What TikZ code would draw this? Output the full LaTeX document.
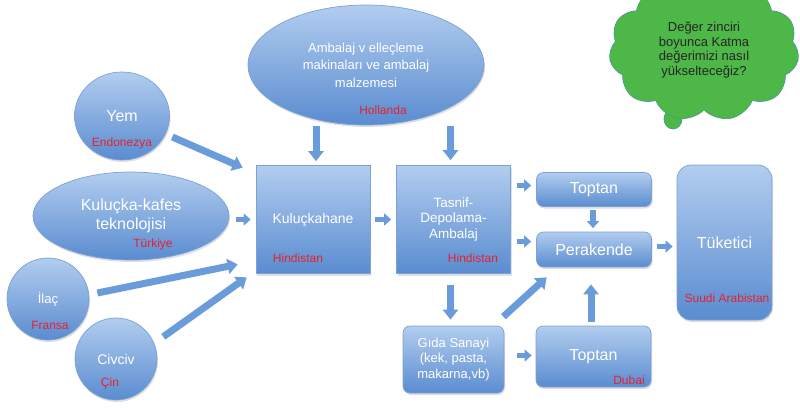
\documentclass[tikz,border=0pt]{standalone}
\usepackage{fontspec}
\setmainfont{Liberation Sans}
\usetikzlibrary{shapes.geometric,shapes.symbols,arrows.meta,shadows,calc}
\definecolor{btop}{HTML}{B2CDEF}
\definecolor{bbot}{HTML}{5A8CD0}
\definecolor{bline}{HTML}{7BA2D6}
\definecolor{arr}{HTML}{6A9BDA}
\definecolor{labred}{HTML}{E8202E}
\definecolor{cgreen}{HTML}{4DB748}
\definecolor{cline}{HTML}{4A9E86}
\newcommand{\fsz}[2]{\fontsize{#1}{#2}\selectfont}
\begin{document}
\begin{tikzpicture}[x=1pt,y=-1pt,
  blob/.style={top color=btop, bottom color=bbot, draw=bline, line width=0.7pt,
    inner sep=0pt, text=white, align=center,
    drop shadow={opacity=0.25,shadow xshift=1pt,shadow yshift=-2pt}},
  ell/.style={blob, ellipse},
  box/.style={blob, rectangle},
  rbox/.style={blob, rectangle, rounded corners=7pt},
  lab/.style={text=labred, font=\fsz{12}{14}, inner sep=0pt},
  barrow/.style={draw=arr, line width=7pt, -{Triangle[width=15pt,length=10pt]}},
  sarrow/.style={draw=arr, line width=5.5pt, -{Triangle[width=12pt,length=7pt]}},
]
\useasboundingbox (0,0) rectangle (800,407);

% cloud tail
\filldraw[fill=cgreen, draw=cline, line width=0.7pt] (673,119) ellipse [x radius=9, y radius=10];
\filldraw[fill=cgreen, draw=cline, line width=0.7pt] (677,104) ellipse [x radius=8, y radius=8];
% cloud
\node[cloud, cloud puffs=11, cloud puff arc=115, fill=cgreen, draw=cline, line width=0.7pt,
  minimum width=190pt, minimum height=102pt, inner sep=0pt, text=black!85,
  font=\fsz{13}{14.5}, align=center] (q) at (704,50)
  {Değer zinciri\\boyunca Katma\\değerimizi nasıl\\yükselteceğiz?};

% sources
\node[ell, minimum width=236pt, minimum height=120pt, font=\fsz{13}{17.5}] (amb) at (366,65)
  {Ambalaj v elleçleme\\makinaları ve ambalaj\\malzemesi};
\node[ell, minimum width=95pt, minimum height=88pt, font=\fsz{16}{18}] (yem) at (122,116) {Yem};
\node[ell, minimum width=196pt, minimum height=88pt, font=\fsz{16}{18.5}] (kafes) at (131,216)
  {Kuluçka-kafes\\teknolojisi};
\node[ell, minimum width=82pt, minimum height=82pt, font=\fsz{13}{15}] (ilac) at (48,299) {İlaç};
\node[ell, minimum width=82pt, minimum height=82pt, font=\fsz{14}{16}] (civ) at (116,359) {Civciv};

% chain
\node[box, minimum width=114pt, minimum height=108pt, font=\fsz{14}{16}] (kul) at (313,219.5) {Kuluçkahane};
\node[box, minimum width=114pt, minimum height=108pt, font=\fsz{13.5}{15.5}] (tas) at (453.5,219.5)
  {Tasnif-\\Depolama-\\Ambalaj};
\node[rbox, minimum width=115pt, minimum height=34pt, font=\fsz{16}{18}] (top1) at (594,189.5) {Toptan};
\node[rbox, minimum width=115pt, minimum height=35pt, font=\fsz{16}{18}] (per) at (594,249.5) {Perakende};
\node[rbox, rounded corners=14pt, minimum width=95pt, minimum height=155pt, font=\fsz{16}{18}] (tuk) at (724.5,242.5) {Tüketici};
\node[rbox, minimum width=101pt, minimum height=67pt, font=\fsz{13}{15.5}] (gida) at (453.5,359.5)
  {Gıda Sanayi\\(kek, pasta,\\makarna,vb)};
\node[rbox, minimum width=115pt, minimum height=61pt, font=\fsz{16}{18}] (top2) at (593.5,356.5) {Toptan};

% red labels
\node[lab] (lhol) at (383,110) {Hollanda};
\node[lab] (lend) at (122,143) {Endonezya};
\node[lab] (ltur) at (153,244) {Türkiye};
\node[lab] (lfra) at (50,325) {Fransa};
\node[lab] (lcin) at (110,383) {Çin};
\node[lab] (lhin1) at (298,258) {Hindistan};
\node[lab] (lhin2) at (473,258) {Hindistan};
\node[lab] (ldub) at (629,380) {Dubai};
\node[lab] (lsuu) at (727,298) {Suudi Arabistan};

% arrows
\draw[barrow] ($(yem.east)+(2.5,21)$) -- ($(kul.north west)+(-13,2.5)$);
\draw[barrow] ($(ilac.east)+(8,-6)$) -- ($(kul.south west)+(-18,-9.5)$);
\draw[barrow] ($(civ.north east)+(18,7)$) -- ($(kul.south west)+(-9,3.5)$);
\draw[sarrow] ($(kafes.east)+(7,3.5)$) -- ($(kul.west)+(-5,0)$);
\draw[barrow] ($(amb.south -| kul.north)+(3,1)$) -- ($(kul.north)+(3,-4)$);
\draw[barrow] ($(amb.south -| tas.north)+(-3,1)$) -- ($(tas.north)+(-3,-5)$);
\draw[sarrow] ($(kul.east)+(5,0)$) -- ($(tas.west)+(-5,0)$);
\draw[sarrow] ($(tas.east |- top1.west)+(6,-4)$) -- ($(top1.west)+(-5,-4)$);
\draw[sarrow] ($(tas.east |- per.west)+(6,-8)$) -- ($(per.west)+(-5,-8)$);
\draw[sarrow] ($(top1.south)+(-1,3.5)$) -- ($(per.north)+(-1,-3.5)$);
\draw[sarrow] ($(per.east)+(5,-3)$) -- ($(per.east -| tuk.west)+(-4,-3)$);
\draw[barrow] ($(tas.south)+(-3,11)$) -- ($(gida.north)+(-3,-6)$);
\draw[barrow] ($(gida.north east)+(-1,-9)$) -- ($(per.south west)+(10.5,10)$);
\draw[sarrow] ($(gida.east)+(13,-4)$) -- ($(gida.east -| top2.west)+(-4,-4)$);
\draw[barrow] ($(top2.north)+(-2.5,-4)$) -- ($(per.south -| top2.north)+(-2.5,17)$);
\end{tikzpicture}
\end{document}
